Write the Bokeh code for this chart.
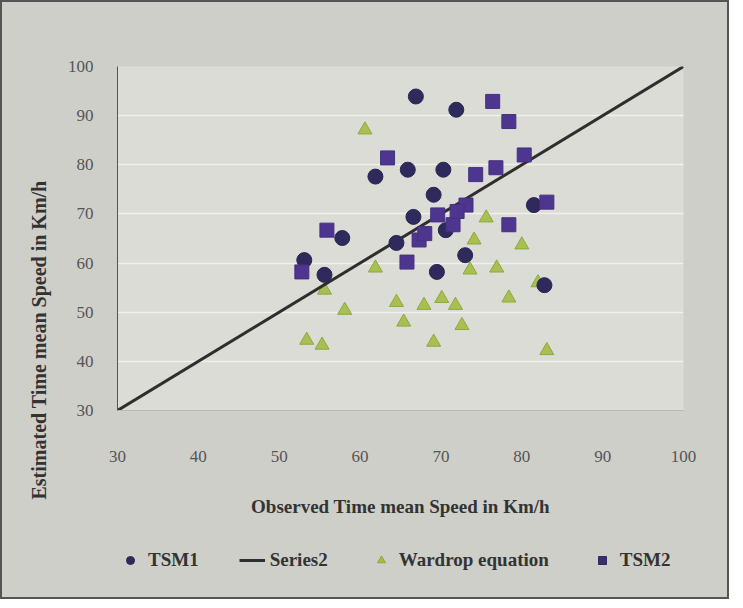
from bokeh.plotting import figure
from bokeh.models import Legend, LegendItem, FixedTicker, Title
from bokeh.layouts import column
from bokeh.embed import file_html
from bokeh.resources import INLINE

ticks = [30, 40, 50, 60, 70, 80, 90, 100]

tsm1_x = [66.9, 71.9, 61.9, 65.9, 70.3, 69.1, 70.6, 53.1, 55.6, 82.8, 69.5, 73.0, 66.6, 81.5, 57.8, 64.5]
tsm1_y = [93.9, 91.2, 77.6, 79.0, 79.0, 73.9, 66.7, 60.6, 57.6, 55.5, 58.2, 61.6, 69.4, 71.8, 65.1, 64.1]

tsm2_x = [76.4, 78.4, 80.3, 63.4, 74.3, 76.8, 73.1, 69.6, 71.5, 83.1, 78.4, 55.9, 67.3, 65.8, 52.8, 72.0, 68.0]
tsm2_y = [92.9, 88.8, 82.0, 81.4, 78.0, 79.4, 71.8, 69.8, 67.8, 72.4, 67.8, 66.7, 64.7, 60.2, 58.2, 70.5, 66.0]

wardrop_x = [60.6, 61.9, 74.1, 80.0, 75.6, 64.5, 58.1, 67.9, 70.1, 71.8, 65.4, 72.6, 73.6, 76.9, 78.4, 69.1, 53.4, 55.3, 83.1, 55.6, 82.0]
wardrop_y = [87.1, 59.0, 64.7, 63.7, 69.2, 52.0, 50.4, 51.4, 52.8, 51.4, 48.0, 47.3, 58.6, 59.0, 52.9, 43.9, 44.3, 43.3, 42.2, 54.5, 56.0]

series2_x = [30, 100]
series2_y = [30, 100]

BG = "#cfcfca"

p = figure(frame_width=566, frame_height=344,
           x_range=(30, 100), y_range=(30, 100),
           output_backend="svg", toolbar_location=None,
           min_border_left=115, min_border_right=44, min_border_top=64, min_border_bottom=112)

p.background_fill_color = "#dcdcd7"
p.border_fill_color = BG
p.outline_line_color = None

p.xgrid.grid_line_color = None
p.ygrid.grid_line_color = "#f0f0ec"
p.ygrid.grid_line_width = 1.5

for ax in (p.xaxis[0], p.yaxis[0]):
    ax.ticker = FixedTicker(ticks=ticks)
    ax.major_label_text_font = "Liberation Serif"
    ax.major_label_text_font_size = "17px"
    ax.major_label_text_color = "#555555"
    ax.axis_label_text_font = "Liberation Serif"
    ax.axis_label_text_font_style = "bold"
    ax.axis_label_text_font_size = "19px"
    ax.axis_label_text_color = "#333333"
    ax.major_tick_line_color = None
    ax.minor_tick_line_color = None

p.xaxis.axis_label = "Observed Time mean Speed in Km/h"
p.xaxis.axis_line_color = "#bbbbb6"
p.yaxis.axis_line_color = "#555555"
p.xaxis.major_label_standoff = 34
p.yaxis.major_label_standoff = 18
p.xaxis.axis_label_standoff = 31

ytitle = Title(text="Estimated Time mean Speed in Km/h", align="left", offset=-89,
               text_font="Liberation Serif", text_font_style="bold",
               text_font_size="20px", text_color="#333333", standoff=30)
p.add_layout(ytitle, "left")

r_w = p.scatter(wardrop_x, wardrop_y, marker="triangle", size=14,
                fill_color="#a2bc45", line_color="#8fa83a", fill_alpha=0.9)
r_line = p.line(series2_x, series2_y, line_color="#2e2e2e", line_width=3)
r_t1 = p.scatter(tsm1_x, tsm1_y, marker="circle", size=15,
                 fill_color="#2f2a5c", line_color="#2a2550")
r_t2 = p.scatter(tsm2_x, tsm2_y, marker="square", size=14,
                 fill_color="#4e3690", line_color="#46307f")

# legend strip (its glyphs use the same data but lie outside its tiny view)
q = figure(width=725, height=75, x_range=(-10, -9), y_range=(-10, -9),
           output_backend="svg", toolbar_location=None,
           min_border_left=115, min_border_right=44, min_border_top=0, min_border_bottom=0,
           x_axis_type=None, y_axis_type=None)
q.background_fill_color = BG
q.border_fill_color = BG
q.outline_line_color = None
q.grid.visible = False
l_w = q.scatter(wardrop_x, wardrop_y, marker="triangle", size=13,
                fill_color="#a2bc45", line_color="#8fa83a")
l_line = q.line(series2_x, series2_y, line_color="#2e2e2e", line_width=3)
l_t1 = q.scatter(tsm1_x, tsm1_y, marker="circle", size=12,
                 fill_color="#2f2a5c", line_color="#2a2550")
l_t2 = q.scatter(tsm2_x, tsm2_y, marker="square", size=11,
                 fill_color="#3a2f6e", line_color="#33295f")

legend = Legend(items=[
    LegendItem(label="TSM1", renderers=[l_t1]),
    LegendItem(label="Series2", renderers=[l_line]),
    LegendItem(label="Wardrop equation", renderers=[l_w]),
    LegendItem(label="TSM2", renderers=[l_t2]),
], orientation="horizontal", location=(0, 26))
legend.label_text_font = "Liberation Serif"
legend.label_text_font_style = "bold"
legend.label_text_font_size = "19px"
legend.label_text_color = "#333333"
legend.background_fill_alpha = 0
legend.border_line_color = None
legend.spacing = 40
legend.margin = 0
legend.padding = 4
legend.glyph_width = 26
q.add_layout(legend, "center")

layout = column(p, q, spacing=0,
                styles={"border": "2px solid #555555", "background-color": BG})

open("out.html", "w").write(file_html(layout, INLINE))
